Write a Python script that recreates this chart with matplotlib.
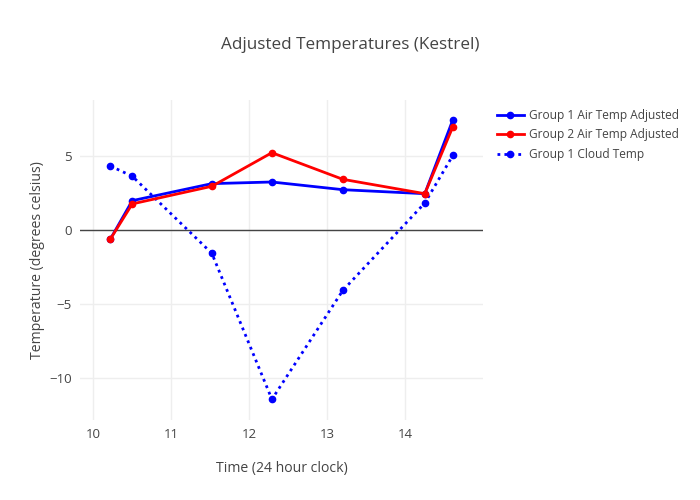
import matplotlib
matplotlib.use("Agg")
import matplotlib.pyplot as plt

times = [10.22, 10.50, 11.52, 12.29, 13.20, 14.25, 14.61]
g1_air = [-0.61, 1.98, 3.13, 3.24, 2.72, 2.45, 7.45]
g2_air = [-0.61, 1.76, 2.95, 5.22, 3.42, 2.45, 6.98]
g1_cloud = [4.32, 3.63, -1.58, -11.44, -4.08, 1.82, 5.04]

plt.rcParams['font.family'] = ['Open Sans', 'DejaVu Sans']

fig = plt.figure(figsize=(7, 5), dpi=100)
ax = fig.add_axes([80/700, 80/500, 403/700, 320/500])

ax.plot(times, g1_air, color='#0000ff', lw=2, marker='o', ms=4.5, label='Group 1 Air Temp Adjusted', zorder=3)
ax.plot(times, g2_air, color='#ff0000', lw=2, marker='o', ms=4.5, label='Group 2 Air Temp Adjusted', zorder=4)
ax.plot(times, g1_cloud, color='#0000ff', lw=2, ls=(0, (1, 1.5)), marker='o', ms=4.5, label='Group 1 Cloud Temp', zorder=3)

ax.set_xlim(9.83, 14.996)
ax.set_ylim(-12.84, 8.78)
ax.set_xticks([10, 11, 12, 13, 14])
ax.set_yticks([-10, -5, 0, 5])
ax.set_yticklabels(['\u221210', '\u22125', '0', '5'])
ax.grid(True, color='#eeeeee', lw=1)
ax.set_axisbelow(True)
ax.axhline(0, color='#444444', lw=1, zorder=2)
for s in ax.spines.values():
    s.set_visible(False)
ax.tick_params(length=0, labelsize=9.5, colors='#444444', pad=6)

ax.set_xlabel('Time (24 hour clock)', fontsize=10.1, color='#444444', labelpad=14)
fig.text(38/700, 1 - 260/500, 'Temperature (degrees celsius)', rotation=90, ha='center', va='center',
         fontsize=10.1, color='#444444')
fig.text(0.5, 1 - 45/500, 'Adjusted Temperatures (Kestrel)', ha='center', va='center', fontsize=12.3, color='#444444')

leg = ax.legend(loc='upper left', bbox_to_anchor=(486/700, 1 - 98/500), bbox_transform=fig.transFigure,
                frameon=False, fontsize=8.6, handlelength=2.3, labelspacing=0.55, handletextpad=0.4)
for t in leg.get_texts():
    t.set_color('#444444')

fig.savefig('out.png', dpi=100)
